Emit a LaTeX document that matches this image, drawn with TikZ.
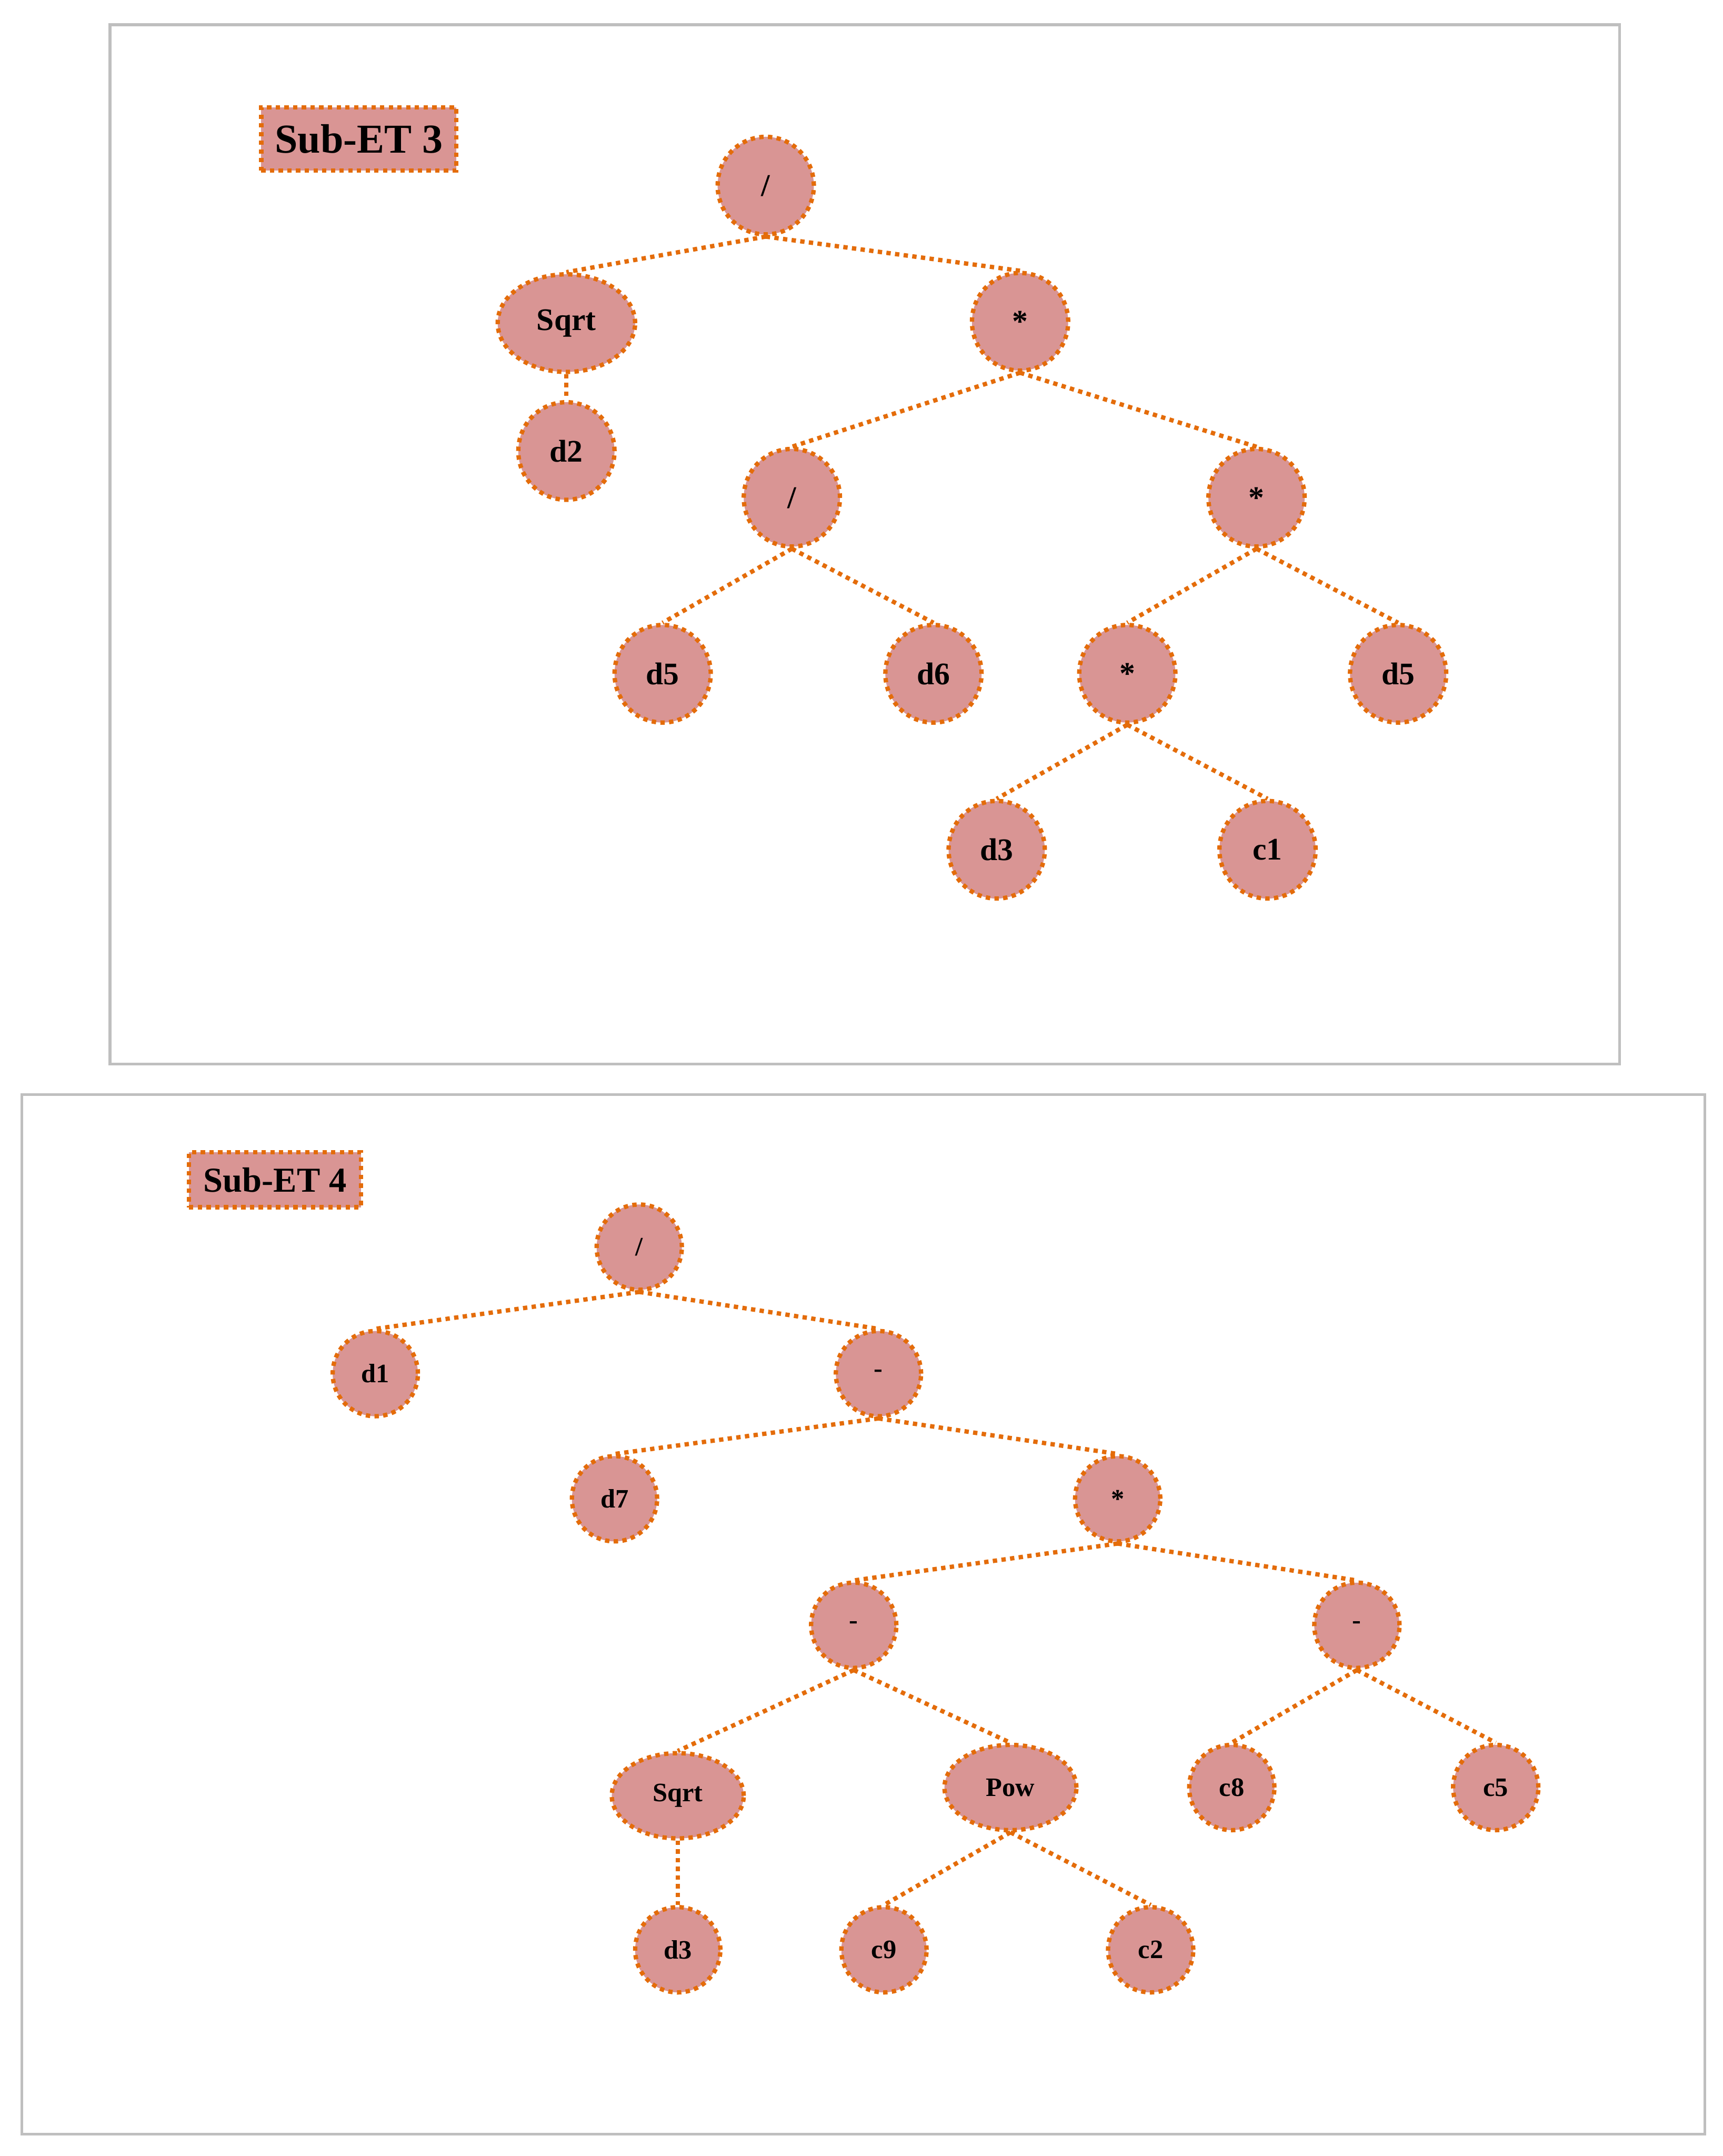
\documentclass[tikz,border=0pt]{standalone}
\usepackage{fontspec}
\setmainfont{Liberation Serif}
\usetikzlibrary{shapes.geometric}
\definecolor{nodefill}{RGB}{217,149,148}
\definecolor{dotline}{RGB}{228,108,10}
\definecolor{framegray}{RGB}{191,191,191}

\begin{document}
\begin{tikzpicture}[x=0.02cm, y=-0.02cm,
  dots/.style={draw=dotline, line width=1.8pt, dash pattern=on 1.8pt off 1.8pt},
  opnode/.style={ellipse, dots, fill=nodefill, inner sep=0pt, font=\bfseries\fontsize{13}{15}\selectfont, minimum width=1.4cm, minimum height=1.42cm},
  wideop/.style={opnode, minimum width=2cm},
  smallnode/.style={ellipse, dots, fill=nodefill, inner sep=0pt, font=\bfseries\fontsize{11}{13}\selectfont, minimum width=1.24cm, minimum height=1.24cm},
  widesmall/.style={smallnode, minimum width=1.92cm},
  titlebox/.style={rectangle, dots, fill=nodefill, inner sep=0pt, font=\bfseries\fontsize{17}{19}\selectfont},
  edge/.style={dots}]
  \useasboundingbox (0,0) rectangle (1253,1568);
  % Frames
  \draw[framegray, line width=1.1pt] (80,18) rectangle (1178,774);
  \draw[framegray, line width=1.1pt] (16,796) rectangle (1240,1552);

  % Sub-ET 3
  \node[titlebox, minimum width=2.84cm, minimum height=0.92cm] (t3) at (261,101) {Sub-ET 3};
  \node[opnode] (a0) at (557,135) {/};
  \node[wideop] (a1) at (412,235) {Sqrt};
  \node[opnode] (a2) at (742,234) {*};
  \node[opnode] (a3) at (412,328) {d2};
  \node[opnode] (a4) at (576,362) {/};
  \node[opnode] (a5) at (914,362) {*};
  \node[opnode] (a6) at (482,490) {d5};
  \node[opnode] (a7) at (679,490) {d6};
  \node[opnode] (a8) at (820,490) {*};
  \node[opnode] (a9) at (1017,490) {d5};
  \node[opnode] (a10) at (725,618) {d3};
  \node[opnode] (a11) at (922,618) {c1};
  % Links
  \draw[edge] (a0.south) -- (a1.north);
  \draw[edge] (a0.south) -- (a2.north);
  \draw[edge] (a1.south) -- (a3.north);
  \draw[edge] (a2.south) -- (a4.north);
  \draw[edge] (a2.south) -- (a5.north);
  \draw[edge] (a4.south) -- (a6.north);
  \draw[edge] (a4.south) -- (a7.north);
  \draw[edge] (a5.south) -- (a8.north);
  \draw[edge] (a5.south) -- (a9.north);
  \draw[edge] (a8.south) -- (a10.north);
  \draw[edge] (a8.south) -- (a11.north);

  % Sub-ET 4
  \node[titlebox, minimum width=2.5cm, minimum height=0.8cm, font=\bfseries\fontsize{14.5}{17}\selectfont] (t4) at (200,858) {Sub-ET 4};
  \node[smallnode] (b0) at (465,907) {/};
  \node[smallnode] (b1) at (273,999) {d1};
  \node[smallnode] (b2) at (639,999) {-};
  \node[smallnode] (b3) at (447,1090) {d7};
  \node[smallnode] (b4) at (813,1090) {*};
  \node[smallnode] (b5) at (621,1182) {-};
  \node[smallnode] (b6) at (987,1182) {-};
  \node[widesmall] (b7) at (493,1306) {Sqrt};
  \node[widesmall] (b8) at (735,1300) {Pow};
  \node[smallnode] (b9) at (896,1300) {c8};
  \node[smallnode] (b10) at (1088,1300) {c5};
  \node[smallnode] (b11) at (493,1418) {d3};
  \node[smallnode] (b12) at (643,1418) {c9};
  \node[smallnode] (b13) at (837,1418) {c2};
  % Links
  \draw[edge] (b0.south) -- (b1.north);
  \draw[edge] (b0.south) -- (b2.north);
  \draw[edge] (b2.south) -- (b3.north);
  \draw[edge] (b2.south) -- (b4.north);
  \draw[edge] (b4.south) -- (b5.north);
  \draw[edge] (b4.south) -- (b6.north);
  \draw[edge] (b5.south) -- (b7.north);
  \draw[edge] (b5.south) -- (b8.north);
  \draw[edge] (b6.south) -- (b9.north);
  \draw[edge] (b6.south) -- (b10.north);
  \draw[edge] (b7.south) -- (b11.north);
  \draw[edge] (b8.south) -- (b12.north);
  \draw[edge] (b8.south) -- (b13.north);
\end{tikzpicture}
\end{document}
